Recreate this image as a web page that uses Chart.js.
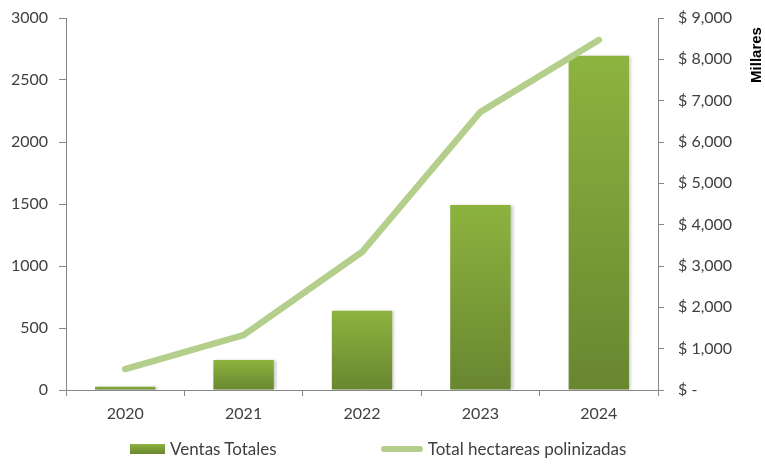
<!DOCTYPE html>
<html lang="es">
<head>
<meta charset="utf-8">
<title>Ventas y hectareas polinizadas</title>
<script src="https://cdn.jsdelivr.net/npm/chart.js@4.4.1/dist/chart.umd.min.js"></script>
<style>
  html, body { margin: 0; padding: 0; background: #fff; }
  .chart-wrap { position: relative; width: 765px; height: 464px; }
  .legend {
    position: absolute; left: 130px; top: 438px;
    display: flex; align-items: center; gap: 104px;
    font: 17px Lato, "Open Sans", sans-serif; color: #404040;
  }
  .legend-item { display: flex; align-items: center; gap: 5px; }
  .legend-box { width: 35px; height: 10px; }
  .legend-line { width: 42px; height: 6px; border-radius: 3px; }
</style>
</head>
<body>
<div class="chart-wrap">
  <canvas id="salesChart" width="765" height="464"></canvas>
  <div class="legend" id="legend"></div>
</div>
<script>
// Data
const years = ['2020', '2021', '2022', '2023', '2024'];
const ventasTotales = [80, 726, 1919, 4476, 8088];      // miles de $ (eje derecho)
const hectareas = [169, 443, 1113, 2242, 2823];         // eje izquierdo
const leftTicks = [0, 500, 1000, 1500, 2000, 2500, 3000];
const rightTicks = [0, 1000, 2000, 3000, 4000, 5000, 6000, 7000, 8000, 9000];

const AXIS_COLOR = '#868686';
const TEXT_COLOR = '#404040';
const BAR_TOP = '#8db33f';
const BAR_BOTTOM = '#698630';
const LINE_COLOR = '#b4ce8c';
const FONT = { family: 'Lato, "Open Sans", sans-serif', size: 16 };

document.addEventListener('DOMContentLoaded', () => {
  const chart = initializeChart();
  buildLegend(chart);
});

/**
 * Vertical gradient for each bar, from its own top to the baseline
 */
function barGradient(context) {
  const chart = context.chart;
  const scale = chart.scales.y1;
  if (!chart.chartArea || !scale || context.raw === undefined) {
    return BAR_BOTTOM;
  }
  const top = scale.getPixelForValue(context.raw);
  const base = scale.getPixelForValue(0);
  if (!isFinite(top) || base - top < 1) return BAR_TOP;
  const g = chart.ctx.createLinearGradient(0, top, 0, base);
  g.addColorStop(0, BAR_TOP);
  g.addColorStop(1, BAR_BOTTOM);
  return g;
}

/**
 * Fixed width for a vertical axis, and no extra padding above / below it
 */
function fitVertical(width) {
  return scale => {
    scale.width = width;
    scale.paddingTop = 0;
    scale.paddingBottom = 0;
  };
}

/**
 * Small plugin: soft shadow behind bars + the rotated "Millares" title
 */
const extrasPlugin = {
  id: 'extras',
  beforeDatasetDraw(chart, args) {
    if (chart.data.datasets[args.index].type === 'bar') {
      const ctx = chart.ctx;
      ctx.save();
      ctx.shadowColor = 'rgba(0,0,0,0.22)';
      ctx.shadowOffsetX = 2;
      ctx.shadowOffsetY = 0;
      ctx.shadowBlur = 3;
    }
  },
  afterDatasetDraw(chart, args) {
    if (chart.data.datasets[args.index].type === 'bar') {
      chart.ctx.restore();
    }
  },
  afterDraw(chart) {
    const ctx = chart.ctx;
    ctx.save();
    ctx.translate(757, 55);
    ctx.rotate(-Math.PI / 2);
    ctx.font = 'bold 15px "Liberation Sans", Arial, sans-serif';
    ctx.fillStyle = '#000';
    ctx.textAlign = 'center';
    ctx.textBaseline = 'middle';
    ctx.fillText('Millares', 0, 0);
    ctx.restore();
  }
};

/**
 * Function to initialize the combined bar + line chart
 */
function initializeChart() {
  const ctx = document.getElementById('salesChart').getContext('2d');

  return new Chart(ctx, {
    data: {
      labels: years,
      datasets: [
        {
          type: 'line',
          label: 'Total hectareas polinizadas',
          data: hectareas,
          yAxisID: 'y',
          borderColor: LINE_COLOR,
          backgroundColor: LINE_COLOR,
          borderWidth: 6.5,
          borderCapStyle: 'round',
          borderJoinStyle: 'miter',
          pointRadius: 0,
          tension: 0,
          order: 0
        },
        {
          type: 'bar',
          label: 'Ventas Totales',
          data: ventasTotales,
          yAxisID: 'y1',
          backgroundColor: barGradient,
          categoryPercentage: 1,
          barPercentage: 0.51,
          order: 1
        }
      ]
    },
    options: {
      responsive: false,
      animation: false,
      layout: { autoPadding: false, padding: { top: 18, left: 0, right: 0, bottom: 0 } },
      plugins: {
        legend: { display: false },
        tooltip: { enabled: false }
      },
      scales: {
        x: {
          offset: true,
          grid: {
            offset: true,
            drawOnChartArea: false,
            tickLength: 6,
            color: AXIS_COLOR
          },
          border: { color: AXIS_COLOR },
          ticks: { color: TEXT_COLOR, font: FONT, padding: 8 },
          afterFit: scale => { scale.height = 74; }
        },
        y: {
          position: 'left',
          min: 0,
          max: 3000,
          afterBuildTicks: scale => {
            scale.ticks = leftTicks.map(v => ({ value: v }));
          },
          grid: { drawOnChartArea: false, tickLength: 7, color: AXIS_COLOR },
          border: { color: AXIS_COLOR },
          ticks: { color: TEXT_COLOR, font: FONT, padding: 11, callback: v => String(v) },
          afterFit: fitVertical(66)
        },
        y1: {
          position: 'right',
          min: 0,
          max: 9000,
          afterBuildTicks: scale => {
            scale.ticks = rightTicks.map(v => ({ value: v }));
          },
          grid: { drawOnChartArea: false, tickLength: 6, color: AXIS_COLOR },
          border: { color: AXIS_COLOR },
          ticks: {
            color: TEXT_COLOR,
            font: FONT,
            padding: 14,
            callback: v => v === 0 ? '$ -' : '$ ' + v.toLocaleString('en-US')
          },
          afterFit: fitVertical(107)
        }
      }
    },
    plugins: [extrasPlugin]
  });
}

/**
 * Builds the html legend below the chart from the chart datasets
 */
function buildLegend(chart) {
  const legend = document.getElementById('legend');
  // bars first, as in the reference
  const items = chart.data.datasets.slice().sort((a, b) => b.order - a.order);
  items.forEach(ds => {
    const item = document.createElement('div');
    item.className = 'legend-item';
    const mark = document.createElement('span');
    if (ds.type === 'bar') {
      mark.className = 'legend-box';
      mark.style.background = 'linear-gradient(' + BAR_TOP + ', ' + BAR_BOTTOM + ')';
    } else {
      mark.className = 'legend-line';
      mark.style.background = ds.borderColor;
    }
    const text = document.createElement('span');
    text.textContent = ds.label;
    item.appendChild(mark);
    item.appendChild(text);
    legend.appendChild(item);
  });
}
</script>
</body>
</html>
